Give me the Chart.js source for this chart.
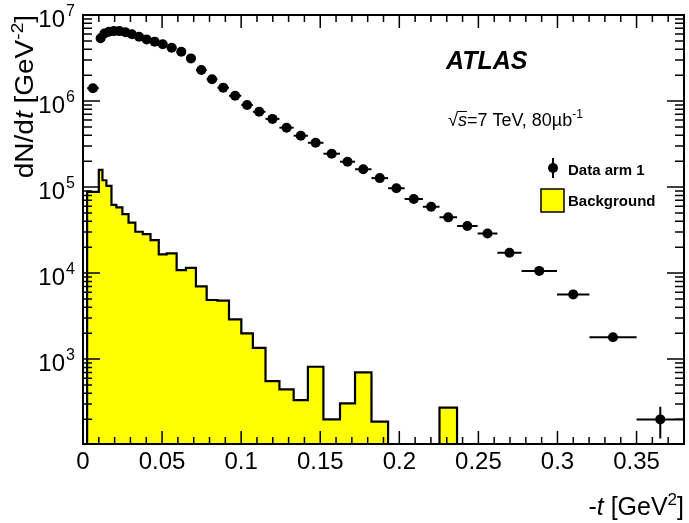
<!DOCTYPE html>
<html>
<head>
<meta charset="utf-8">
<script src="https://cdn.jsdelivr.net/npm/chart.js@4.4.1/dist/chart.umd.min.js"></script>
<style>
  html, body { margin: 0; padding: 0; background: #fff; }
  #wrap { width: 689px; height: 523px; }
</style>
</head>
<body>
<div id="wrap"><canvas id="c" width="689" height="523"></canvas></div>
<script>
// -t bin edges [GeV^2], shared by data and background histograms
const binEdges = [0.0026, 0.0100, 0.0123, 0.0148, 0.0180, 0.0211, 0.0249, 0.0288, 0.0331, 0.0378,
  0.0427, 0.0479, 0.0529, 0.0592, 0.0651, 0.0714, 0.0782, 0.0850, 0.0923, 0.1001,
  0.1074, 0.1154, 0.1242, 0.1332, 0.1422, 0.1520, 0.1625, 0.1720, 0.1824, 0.1929,
  0.2034, 0.2149, 0.2254, 0.2365, 0.2495, 0.2620, 0.2773, 0.2997, 0.3202, 0.3500, 0.3800];

// dN/dt for data arm 1, one value per bin
const dataVals = [1.41e6, 5.36e6, 6.1e6, 6.4e6, 6.5e6, 6.5e6, 6.3e6, 5.97e6, 5.6e6, 5.2e6,
  4.9e6, 4.57e6, 4.17e6, 3.74e6, 3.13e6, 2.29e6, 1.79e6, 1.43e6, 1.15e6, 8.98e5,
  7.5e5, 6.2e5, 4.9e5, 3.95e5, 3.27e5, 2.44e5, 1.97e5, 1.61e5, 1.27e5, 9.66e4,
  7.25e4, 5.9e4, 4.44e4, 3.52e4, 2.89e4, 1.72e4, 1.06e4, 5650, 1790, 199];

// vertical errors (mostly hidden behind the markers)
const dataErr = [0, 0, 0, 0, 0, 0, 0, 0, 0, 0,
  0, 0, 0, 0, 0, 0, 0, 0, 0, 0,
  0, 0, 0, 0, 0, 0, 0, 0, 0, 1500,
  1200, 1000, 900, 800, 700, 500, 350, 200, 90, 80];

// background estimate, 0 = empty bin
const bkgVals = [8.8e4, 1.58e5, 1.2e5, 1.03e5, 6.2e4, 5.8e4, 4.85e4, 3.85e4, 3.02e4, 2.84e4,
  2.42e4, 1.65e4, 1.69e4, 1.08e4, 1.15e4, 7.0e3, 4.86e3, 4.77e3, 2.9e3, 1.99e3,
  1.35e3, 555, 444, 333, 815, 199, 305, 700, 187, 0,
  0, 0, 272, 0, 0, 0, 0, 0, 0, 0];

const xTicks = [0, 0.05, 0.1, 0.15, 0.2, 0.25, 0.3, 0.35];
const xTickLabels = ['0', '0.05', '0.1', '0.15', '0.2', '0.25', '0.3', '0.35'];
const yDecades = [3, 4, 5, 6, 7];

const FONT = '"Liberation Sans", Arial, Helvetica, sans-serif';
const FLOOR = 1; // below the axis, clipped away

const dataPoints = dataVals.map((v, i) => ({ x: (binEdges[i] + binEdges[i + 1]) / 2, y: v }));

const bkgOutline = [{ x: binEdges[0], y: FLOOR }];
bkgVals.forEach((v, i) => {
  const y = v > 0 ? v : FLOOR;
  bkgOutline.push({ x: binEdges[i], y: y }, { x: binEdges[i + 1], y: y });
});
bkgOutline.push({ x: binEdges[binEdges.length - 1], y: FLOOR });

// draw a run of text pieces (normal / italic / superscript)
function richText(ctx, parts, x, y, align) {
  let w = 0;
  parts.forEach(p => { ctx.font = p.font; w += ctx.measureText(p.t).width; });
  let cx = align === 'right' ? x - w : x;
  ctx.textAlign = 'left';
  ctx.textBaseline = 'alphabetic';
  parts.forEach(p => {
    ctx.font = p.font;
    ctx.fillText(p.t, cx, y + (p.dy || 0));
    cx += ctx.measureText(p.t).width;
  });
  return w;
}

const decor = {
  id: 'decor',
  afterDatasetsDraw(chart) {
    const { ctx, scales: { x, y } } = chart;
    ctx.save();
    ctx.strokeStyle = '#000';
    ctx.lineWidth = 2;
    dataVals.forEach((v, i) => {
      const lo = binEdges[i], hi = binEdges[i + 1];
      const px = x.getPixelForValue((lo + hi) / 2);
      const py = y.getPixelForValue(v);
      ctx.beginPath();
      ctx.moveTo(x.getPixelForValue(lo), py);
      ctx.lineTo(x.getPixelForValue(hi), py);
      if (dataErr[i] > 0) {
        ctx.moveTo(px, y.getPixelForValue(v + dataErr[i]));
        ctx.lineTo(px, y.getPixelForValue(v - dataErr[i]));
      }
      ctx.stroke();
    });
    ctx.restore();
  },
  afterDraw(chart) {
    const { ctx, chartArea: { left, right, top, bottom }, scales: { x, y } } = chart;
    ctx.save();
    ctx.strokeStyle = '#000';
    ctx.fillStyle = '#000';

    // ticks on all four sides, pointing inwards
    ctx.lineWidth = 1.5;
    ctx.beginPath();
    for (let k = 0; k <= 38; k++) {
      const px = x.getPixelForValue(k / 100);
      const len = k % 5 === 0 ? 13 : 7;
      ctx.moveTo(px, bottom); ctx.lineTo(px, bottom - len);
      ctx.moveTo(px, top); ctx.lineTo(px, top + len);
    }
    for (let e = 2; e <= 6; e++) {
      for (let m = 1; m <= 9; m++) {
        const v = m * Math.pow(10, e);
        if (v < y.min || v > y.max) continue;
        const py = y.getPixelForValue(v);
        const len = m === 1 ? 17 : 9;
        ctx.moveTo(left, py); ctx.lineTo(left + len, py);
        ctx.moveTo(right, py); ctx.lineTo(right - len, py);
      }
    }
    ctx.stroke();

    // frame
    ctx.lineWidth = 2;
    ctx.strokeRect(left, top, right - left, bottom - top);

    // x tick labels
    ctx.font = `24px ${FONT}`;
    ctx.textAlign = 'center';
    ctx.textBaseline = 'alphabetic';
    xTicks.forEach((v, i) => ctx.fillText(xTickLabels[i], x.getPixelForValue(v), bottom + 25));

    // y tick labels 10^n
    yDecades.forEach(e => {
      const py = y.getPixelForValue(Math.pow(10, e));
      ctx.font = `24px ${FONT}`;
      ctx.textAlign = 'right';
      ctx.fillText('10', 65, py + 12);
      ctx.font = `16px ${FONT}`;
      ctx.textAlign = 'left';
      ctx.fillText(String(e), 66, py + 1);
    });

    // x axis title
    richText(ctx, [
      { t: '-', font: `25px ${FONT}` },
      { t: 't', font: `italic 25px ${FONT}` },
      { t: ' [GeV', font: `25px ${FONT}` },
      { t: '2', font: `17px ${FONT}`, dy: -10 },
      { t: ']', font: `25px ${FONT}` }
    ], right, 515, 'right');

    // y axis title, rotated, ending at the top of the frame
    ctx.save();
    ctx.translate(33, top);
    ctx.rotate(-Math.PI / 2);
    ctx.scale(1.12, 1);
    richText(ctx, [
      { t: 'dN/d', font: `25px ${FONT}` },
      { t: 't', font: `italic 25px ${FONT}` },
      { t: ' [GeV', font: `25px ${FONT}` },
      { t: '-2', font: `17px ${FONT}`, dy: -10 },
      { t: ']', font: `25px ${FONT}` }
    ], 0, 0, 'right');
    ctx.restore();

    // ATLAS label
    ctx.font = `italic bold 25px ${FONT}`;
    ctx.textAlign = 'left';
    ctx.fillText('ATLAS', 446, 69);

    // sqrt(s) line
    ctx.font = `18px ${FONT}`;
    const rx = 448, ry = 126;
    const rw = ctx.measureText('\u221A').width;
    ctx.fillText('\u221A', rx, ry);
    ctx.font = `italic 18px ${FONT}`;
    const sw = ctx.measureText('s').width;
    ctx.fillText('s', rx + rw, ry);
    ctx.lineWidth = 1;
    ctx.beginPath();
    ctx.moveTo(rx + rw - 1, ry - 14.5);
    ctx.lineTo(rx + rw + sw, ry - 14.5);
    ctx.stroke();
    richText(ctx, [
      { t: '=7 TeV, 80\u00B5b', font: `18px ${FONT}` },
      { t: '-1', font: `12px ${FONT}`, dy: -8 }
    ], rx + rw + sw, ry, 'left');

    // legend
    ctx.lineWidth = 2;
    ctx.beginPath();
    ctx.moveTo(553, 158); ctx.lineTo(553, 178);
    ctx.stroke();
    ctx.beginPath();
    ctx.arc(553, 168, 5, 0, Math.PI * 2);
    ctx.fill();
    ctx.fillStyle = '#ffff00';
    ctx.fillRect(541, 189, 23, 23);
    ctx.lineWidth = 1.5;
    ctx.strokeRect(541, 189, 23, 23);
    ctx.fillStyle = '#000';
    ctx.font = `bold 15px ${FONT}`;
    ctx.textAlign = 'left';
    ctx.fillText('Data arm 1', 568, 175);
    ctx.fillText('Background', 568, 206);

    ctx.restore();
  }
};

new Chart(document.getElementById('c'), {
  type: 'line',
  data: {
    datasets: [
      {
        label: 'Data arm 1',
        data: dataPoints,
        showLine: false,
        pointRadius: 5,
        pointHoverRadius: 5,
        pointBackgroundColor: '#000',
        pointBorderColor: '#000',
        pointBorderWidth: 0,
        order: 0
      },
      {
        label: 'Background',
        data: bkgOutline,
        borderColor: '#000',
        borderWidth: 2.2,
        backgroundColor: '#ffff00',
        fill: 'start',
        pointRadius: 0,
        tension: 0,
        order: 1
      }
    ]
  },
  options: {
    responsive: false,
    animation: false,
    devicePixelRatio: 1,
    layout: { padding: { top: 15, right: 1, left: 0, bottom: 0 } },
    plugins: { legend: { display: false }, tooltip: { enabled: false } },
    scales: {
      x: {
        type: 'linear', min: 0, max: 0.38,
        grid: { display: false }, border: { display: false }, ticks: { display: false },
        afterFit: s => { s.height = 79; }
      },
      y: {
        type: 'logarithmic', min: 103, max: 1e7,
        grid: { display: false }, border: { display: false }, ticks: { display: false },
        afterFit: s => { s.width = 83; }
      }
    }
  },
  plugins: [decor]
});
</script>
</body>
</html>
